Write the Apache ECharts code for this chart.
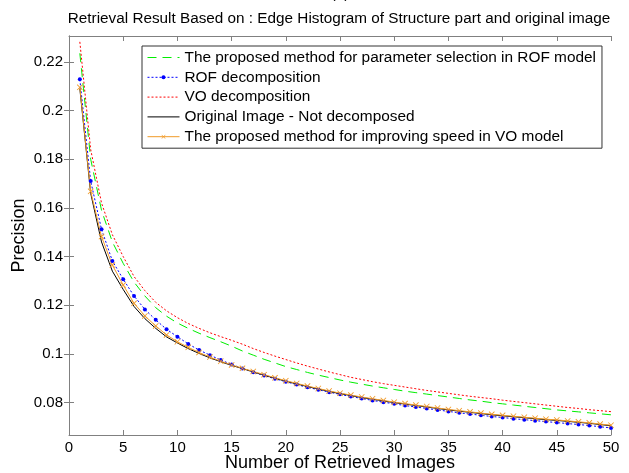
<!DOCTYPE html>
<html><head><meta charset="utf-8">
<script src="https://cdn.jsdelivr.net/npm/echarts@6/dist/echarts.min.js"></script>
<style>html,body{margin:0;padding:0;background:#fff}#c{width:629px;height:473px}</style>
</head><body><div id="c"></div>
<script>
const xValues = [1,2,3,4,5,6,7,8,9,10,11,12,13,14,15,16,17,18,19,20,21,22,23,24,25,26,27,28,29,30,31,32,33,34,35,36,37,38,39,40,41,42,43,44,45,46,47,48,49,50];
const seriesNames = [
  'The proposed method for parameter selection in ROF model',
  'ROF decomposition',
  'VO decomposition',
  'Original Image - Not decomposed',
  'The proposed method for improving speed in VO model'
];
const proposedROF = [0.2235,0.1800,0.1590,0.1460,0.1372,0.1295,0.1238,0.1190,0.1155,0.1127,
  0.1105,0.1085,0.1067,0.1050,0.1032,0.1012,0.0995,0.0978,0.0963,0.0948,
  0.0936,0.0924,0.0913,0.0903,0.0893,0.0884,0.0876,0.0868,0.0861,0.0854,
  0.0847,0.0841,0.0835,0.0829,0.0823,0.0817,0.0811,0.0806,0.0800,0.0795,
  0.0790,0.0785,0.0780,0.0775,0.0770,0.0766,0.0762,0.0758,0.0754,0.0750];
const rofDecomp = [0.2128,0.1710,0.1512,0.1382,0.1307,0.1238,0.1183,0.1140,0.1101,0.1071,
  0.1041,0.1016,0.0995,0.0975,0.0957,0.0940,0.0925,0.0911,0.0898,0.0886,
  0.0874,0.0863,0.0853,0.0843,0.0834,0.0825,0.0817,0.0809,0.0802,0.0795,
  0.0788,0.0782,0.0776,0.0770,0.0764,0.0758,0.0753,0.0748,0.0743,0.0739,
  0.0734,0.0730,0.0726,0.0722,0.0718,0.0714,0.0710,0.0706,0.0701,0.0696];
const voDecomp = [0.2282,0.1840,0.1620,0.1490,0.1400,0.1318,0.1260,0.1212,0.1177,0.1149,
  0.1125,0.1105,0.1087,0.1071,0.1056,0.1040,0.1022,0.1006,0.0991,0.0977,
  0.0963,0.0950,0.0938,0.0926,0.0915,0.0904,0.0895,0.0886,0.0878,0.0871,
  0.0864,0.0857,0.0850,0.0844,0.0838,0.0832,0.0826,0.0821,0.0816,0.0810,
  0.0805,0.0800,0.0795,0.0790,0.0785,0.0780,0.0776,0.0771,0.0767,0.0763];
const originalImage = [0.2090,0.1660,0.1460,0.1340,0.1265,0.1195,0.1145,0.1105,0.1070,0.1045,
  0.1022,0.1002,0.0984,0.0968,0.0953,0.0940,0.0926,0.0913,0.0900,0.0888,
  0.0877,0.0866,0.0856,0.0846,0.0837,0.0829,0.0821,0.0814,0.0807,0.0800,
  0.0794,0.0788,0.0782,0.0776,0.0770,0.0765,0.0760,0.0755,0.0750,0.0746,
  0.0742,0.0738,0.0734,0.0730,0.0727,0.0723,0.0719,0.0715,0.0710,0.0705];
const proposedVO = [0.2095,0.1668,0.1482,0.1365,0.1283,0.1208,0.1156,0.1115,0.1078,0.1050,
  0.1027,0.1006,0.0987,0.0970,0.0955,0.0941,0.0928,0.0915,0.0902,0.0890,
  0.0879,0.0868,0.0858,0.0848,0.0839,0.0831,0.0823,0.0816,0.0809,0.0802,
  0.0796,0.0790,0.0784,0.0778,0.0772,0.0767,0.0762,0.0757,0.0752,0.0748,
  0.0744,0.0740,0.0736,0.0732,0.0729,0.0725,0.0721,0.0717,0.0712,0.0707];
const xTicks = [0,5,10,15,20,25,30,35,40,45,50];
const yTicks = [0.08,0.10,0.12,0.14,0.16,0.18,0.20,0.22];
const titleText = 'Retrieval Result Based on : Edge Histogram of Structure part and original image';
const xName = 'Number of Retrieved Images';
const yName = 'Precision';

const FONT = 'Liberation Sans, Arial, sans-serif';
const AX = '#808080';
const chart = echarts.init(document.getElementById('c'), null, {renderer: 'canvas'});
const pts = arr => xValues.map((x, i) => [x, arr[i]]);
const xMark = 'path://M0,1L1,0L10,9L9,10Z M9,0L10,1L1,10L0,9Z';
const yMin = 0.0667, yMax = 0.2306;

const axisCommon = {
  axisLine: {show: true, lineStyle: {color: AX, width: 1}},
  axisTick: {show: true, inside: true, length: 5, lineStyle: {color: AX}},
  splitLine: {show: false}
};

chart.setOption({
  animation: false,
  backgroundColor: '#fff',
  textStyle: {fontFamily: FONT},
  graphic: [
    {type: 'text', x: 339, y: 19, style: {text: titleText, font: '15.3px ' + FONT, fill: '#000', align: 'center', verticalAlign: 'middle'}},
    {type: 'text', x: 340, y: -6, style: {text: '(b)', font: '15px ' + FONT, fill: '#000', align: 'center', verticalAlign: 'middle'}}
  ],
  grid: {left: 69, right: 18, top: 36, bottom: 38, containLabel: false, outerBoundsMode: 'none'},
  legend: {
    data: seriesNames.map((n, i) => (i === 0 || i === 2 || i === 3) ? {name: n, itemStyle: {opacity: 0}} : {name: n}),
    orient: 'vertical', left: 142, top: 46,
    backgroundColor: '#fff', borderColor: '#333', borderWidth: 1, borderRadius: 0,
    padding: [3, 6, 3, 5], itemWidth: 32, itemHeight: 5, itemGap: 2.8,
    selectedMode: false,
    lineStyle: {width: 1},
    textStyle: {fontSize: 15.4, color: '#000', fontFamily: FONT, lineHeight: 17}
  },
  xAxis: [
    Object.assign({type: 'value', min: 0, max: 50, interval: 5, position: 'bottom',
      axisLabel: {color: '#000', fontSize: 15, margin: 5, fontFamily: FONT},
      name: xName, nameLocation: 'middle', nameGap: 19, nameMoveOverlap: false,
      nameTextStyle: {fontSize: 18, color: '#000', fontFamily: FONT, verticalAlign: 'top'}}, axisCommon),
    Object.assign({type: 'value', min: 0, max: 50, interval: 5, position: 'top',
      axisLabel: {show: false}}, axisCommon)
  ],
  yAxis: [
    Object.assign({type: 'value', min: yMin, max: yMax, position: 'left',
      axisLabel: {color: '#000', fontSize: 15, margin: 6, fontFamily: FONT, customValues: yTicks,
        formatter: v => String(+(+v).toFixed(2))},
      name: yName, nameLocation: 'middle', nameGap: 41, nameMoveOverlap: false,
      nameTextStyle: {fontSize: 18, color: '#000', fontFamily: FONT, verticalAlign: 'bottom'}}, axisCommon,
      {axisTick: {show: true, inside: true, length: 5, lineStyle: {color: AX}, customValues: yTicks}}),
    Object.assign({type: 'value', min: yMin, max: yMax, position: 'right',
      axisLabel: {show: false}}, axisCommon,
      {axisTick: {show: true, inside: true, length: 5, lineStyle: {color: AX}, customValues: yTicks}})
  ],
  series: [
    {name: seriesNames[0], type: 'line', data: pts(proposedROF), symbol: 'none',
      lineStyle: {color: '#00ee00', width: 1, type: [9, 6]}, itemStyle: {color: '#00ee00'}},
    {name: seriesNames[1], type: 'line', data: pts(rofDecomp), symbol: 'circle', symbolSize: 4,
      lineStyle: {color: '#0000ff', width: 1, type: [2, 2]}, itemStyle: {color: '#0000ff'}},
    {name: seriesNames[2], type: 'line', data: pts(voDecomp), symbol: 'none',
      lineStyle: {color: '#ff0000', width: 1, type: [2, 2]}, itemStyle: {color: '#ff0000'}},
    {name: seriesNames[3], type: 'line', data: pts(originalImage), symbol: 'none',
      lineStyle: {color: '#000000', width: 1}, itemStyle: {color: '#000000'}},
    {name: seriesNames[4], type: 'line', data: pts(proposedVO), symbol: xMark, symbolSize: 6,
      lineStyle: {color: '#f09a28', width: 1}, itemStyle: {color: '#f09a28'}}
  ]
});
</script></body></html>
